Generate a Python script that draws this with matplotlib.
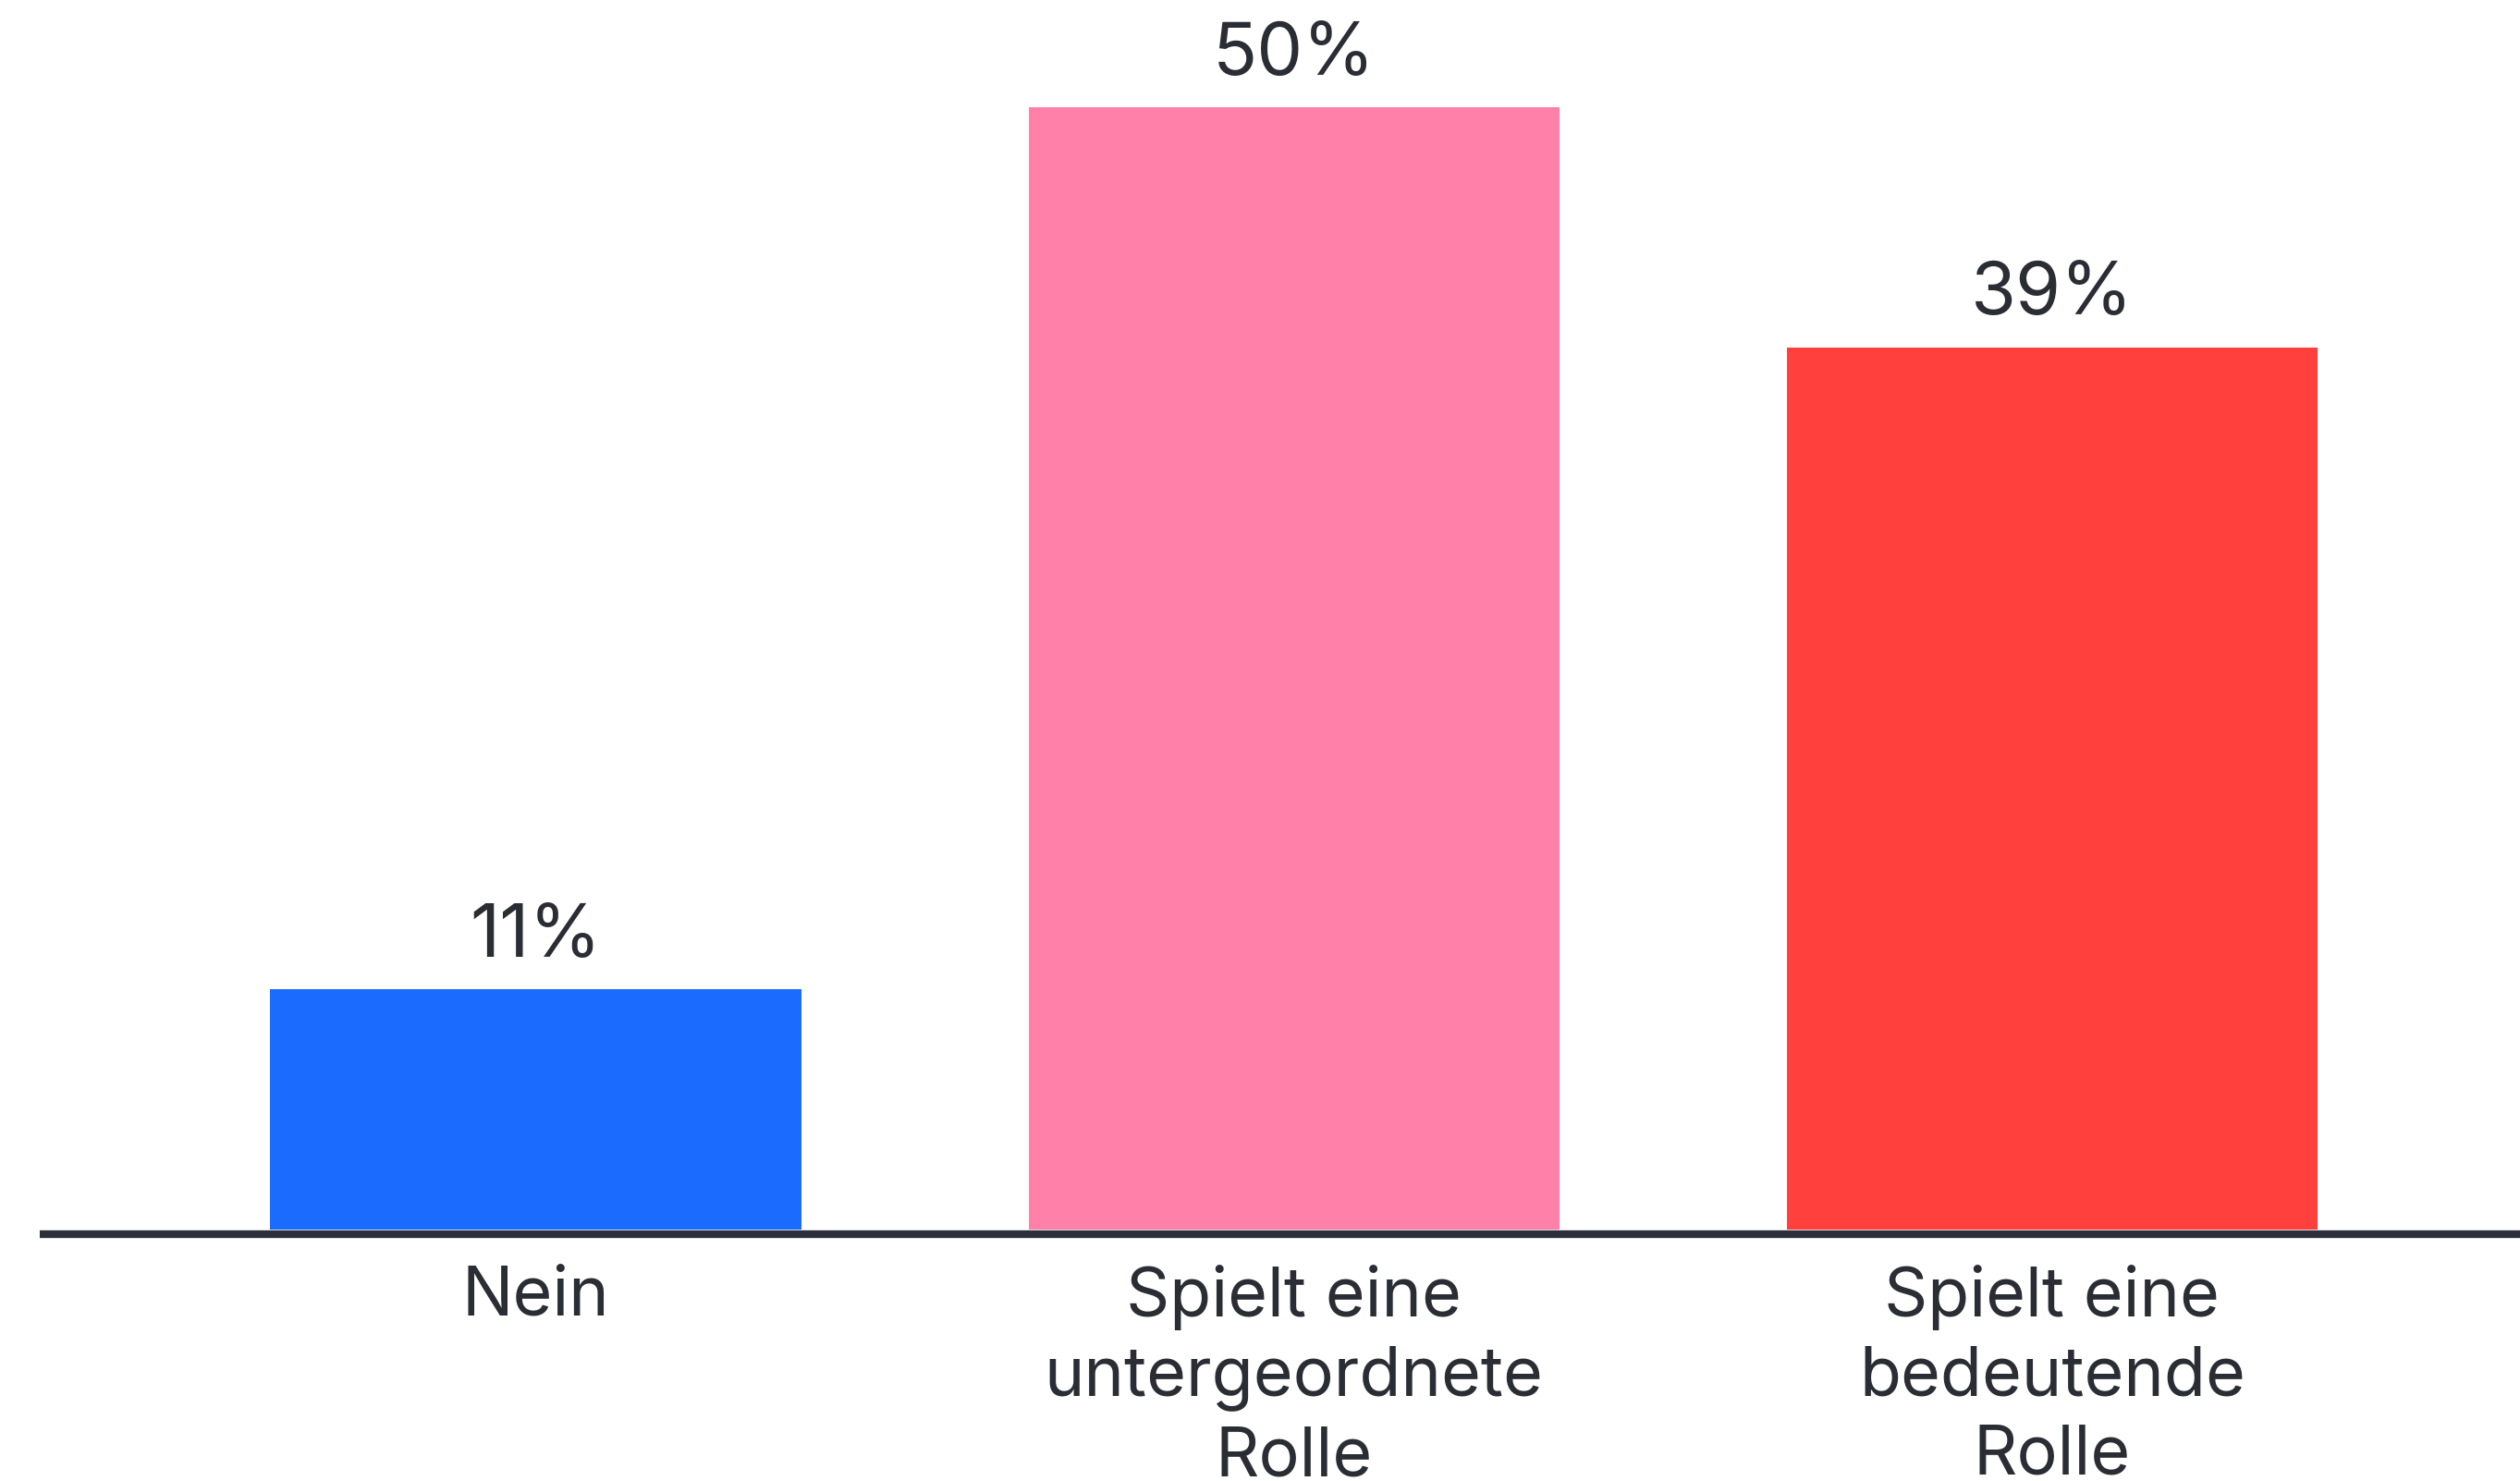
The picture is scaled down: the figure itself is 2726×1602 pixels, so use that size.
import matplotlib
matplotlib.use("Agg")
import matplotlib.pyplot as plt

# Daten
kategorien = ["Nein", "Spielt eine\nuntergeordnete\nRolle", "Spielt eine\nbedeutende\nRolle"]
werte = [10.7, 50.0, 39.3]
farben = ["#1b6bff", "#ff80a8", "#ff403c"]

plt.rcParams['font.family'] = ['Inter', 'DejaVu Sans']
textfarbe = "#2a2d34"

fig = plt.figure(figsize=(13.63, 8.01), dpi=200)
ax = fig.add_axes([43 / 2726, 1 - 1330 / 1602, 1 - 43 / 2726, 1330 / 1602])

# Achsenlinie zuerst einstellen (set_position setzt die Ticks zurück)
for s in ["top", "right", "left"]:
    ax.spines[s].set_visible(False)
ax.spines["bottom"].set_position(("outward", 1.8))
ax.spines["bottom"].set_color("#2b2f3a")
ax.spines["bottom"].set_linewidth(3.0)
ax.spines["bottom"].set_capstyle("butt")

x = range(len(kategorien))
balken = ax.bar(x, werte, width=0.7, color=farben)

# Prozentwerte über den Balken
for b in balken:
    ax.annotate(f"{b.get_height():.0f}%", (b.get_x() + b.get_width() / 2, b.get_height()),
                xytext=(0, 7), textcoords="offset points",
                ha="center", va="bottom", fontsize=28.5, color=textfarbe)

ax.set_xlim(-0.654, 2.617)
ax.set_ylim(0, 54.78)
ax.set_xticks(list(x))
ax.set_xticklabels(kategorien, fontsize=26.5, color=textfarbe, linespacing=1.3)
ax.tick_params(axis="x", length=0, pad=12)
ax.set_yticks([])

fig.savefig("out.png", dpi=200, facecolor="white")
